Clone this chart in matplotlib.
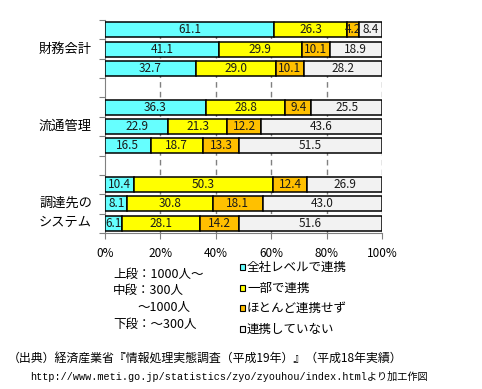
#!/usr/bin/env python3
"""100% stacked bars: 連携の度合い by system type and company size."""
import matplotlib

matplotlib.use("Agg")
import matplotlib.pyplot as plt
from matplotlib.patches import Rectangle
import numpy as np

plt.rcParams["font.family"] = ["Noto Sans CJK JP", "DejaVu Sans"]

W, H = 482, 389

# rows top -> bottom (上段 / 中段 / 下段 per group)
groups = ["財務会計", "流通管理", "調達先の\nシステム"]
series = ["全社レベルで連携", "一部で連携", "ほとんど連携せず", "連携していない"]
zensha = [61.1, 41.1, 32.7, 36.3, 22.9, 16.5, 10.4, 8.1, 6.1]
ichibu = [26.3, 29.9, 29.0, 28.8, 21.3, 18.7, 50.3, 30.8, 28.1]
hotondo = [4.2, 10.1, 10.1, 9.4, 12.2, 13.3, 12.4, 18.1, 14.2]
nashi = [8.4, 18.9, 28.2, 25.5, 43.6, 51.5, 26.9, 43.0, 51.6]
colors = ["#66FFFF", "#FFFF00", "#FFC000", "#F2F2F2"]
xticks = [0, 20, 40, 60, 80, 100]


def fx(x):
    return x / W


def fy(y):
    return 1 - y / H


fig = plt.figure(figsize=(W / 100, H / 100), dpi=100)
ax = fig.add_axes([fx(105), fy(233), fx(382) - fx(105), fy(20) - fy(233)])

vals = np.array([zensha, ichibu, hotondo, nashi])
pct = vals / vals.sum(axis=0) * 100
# 3 rows per group, one empty slot between groups
slots = np.array([g * 4 + i for g in range(3) for i in range(3)])
left = np.zeros(len(slots))
for k in range(4):
    ax.barh(slots, pct[k], left=left, height=0.77, color=colors[k],
            edgecolor="black", lw=1.1, zorder=3)
    for y, l, w, v in zip(slots, left, pct[k], vals[k]):
        ax.text(l + w / 2, y, f"{v:.1f}", ha="center", va="center",
                fontsize=8.5, color="#1a1a1a", zorder=4)
    left += pct[k]

ax.set_xlim(0, 100)
ax.set_ylim(10.5, -0.5)
ax.set_xticks(xticks)
ax.set_xticklabels([f"{t}%" for t in xticks], fontsize=8.5)
ax.tick_params(axis="x", length=4, color="#808080", pad=6)
ax.set_yticks(np.arange(-0.5, 11, 1))
ax.set_yticklabels([])
ax.tick_params(axis="y", length=4, color="#808080")
for t in xticks[1:]:
    ax.axvline(t, color="#808080", ls=(0, (4, 3)), lw=1, zorder=1)
for s in ("top", "right"):
    ax.spines[s].set_visible(False)
for s in ("left", "bottom"):
    ax.spines[s].set_color("#808080")

# category labels
ax.text(-0.05, 1, groups[0], transform=ax.get_yaxis_transform(), ha="right",
        va="center", fontsize=9.5)
ax.text(-0.05, 5, groups[1], transform=ax.get_yaxis_transform(), ha="right",
        va="center", fontsize=9.5)
fig.text(fx(92), fy(203), "調達先の", ha="right", va="center", fontsize=9.5)
fig.text(fx(92), fy(222), "システム", ha="right", va="center", fontsize=9.5)

# legend
leg_y = [267, 288, 308, 329]
for lab, c, y in zip(series, colors, leg_y):
    fig.add_artist(Rectangle((fx(239.5), fy(y + 3)), 6 / W, 6 / H,
                             transform=fig.transFigure, facecolor=c,
                             edgecolor="black", lw=0.8))
    fig.text(fx(247), fy(y), lab, ha="left", va="center", fontsize=9)

# size note
fig.text(fx(113), fy(274), "上段：1000人～", ha="left", va="center", fontsize=9)
fig.text(fx(113), fy(290), "中段：300人", ha="left", va="center", fontsize=9)
fig.text(fx(137), fy(307), "～1000人", ha="left", va="center", fontsize=9)
fig.text(fx(113), fy(324), "下段：～300人", ha="left", va="center", fontsize=9)

# source
fig.text(fx(8), fy(358), "（出典）経済産業省『情報処理実態調査（平成19年）』（平成18年実績）",
         ha="left", va="center", fontsize=8.6)
fig.text(fx(30), fy(376),
         "http://www.meti.go.jp/statistics/zyo/zyouhou/index.htmlより加工作図",
         ha="left", va="center", fontsize=7.3,
         family=["Liberation Mono", "Noto Sans CJK JP"])

fig.savefig("out.png", dpi=100)
